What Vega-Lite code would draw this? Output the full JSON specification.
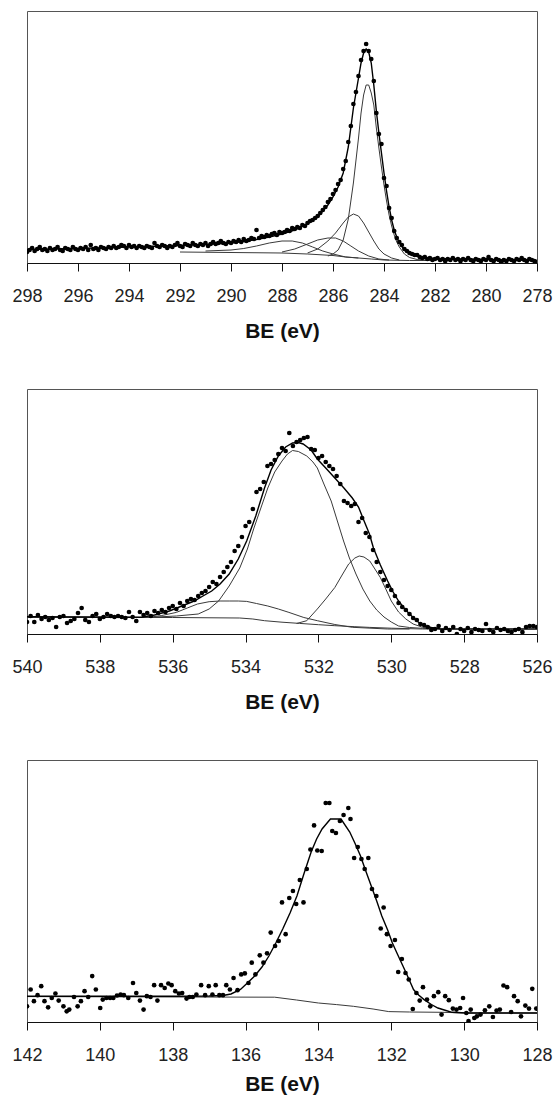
{
"$schema": "https://vega.github.io/schema/vega-lite/v6.json",
"padding": {"left": 11, "top": 10, "right": 0, "bottom": 0},
"background": "white",
"spacing": 46,
"config": {
  "view": {"stroke": "#555", "strokeWidth": 1},
  "axis": {"grid": false, "domainColor": "#111", "tickColor": "#111", "tickSize": 8, "labelFont": "Liberation Sans", "labelFontSize": 18, "labelColor": "#222", "labelPadding": 16, "labelFlush": false, "titleFont": "Liberation Sans", "titleFontSize": 21, "titleFontWeight": "bold", "titleColor": "#111", "titlePadding": 15}
},
"vconcat": [
{
 "width": 510, "height": 252,
 "data": {"values": [
{"k":"pt","e":298.0,"i":11},{"k":"pt","e":297.9,"i":13},{"k":"pt","e":297.8,"i":15},{"k":"pt","e":297.7,"i":12},{"k":"pt","e":297.6,"i":14},{"k":"pt","e":297.5,"i":16},{"k":"pt","e":297.4,"i":13},{"k":"pt","e":297.3,"i":14},{"k":"pt","e":297.2,"i":12},{"k":"pt","e":297.1,"i":15},
{"k":"pt","e":297.0,"i":13},{"k":"pt","e":296.9,"i":14},{"k":"pt","e":296.8,"i":16},{"k":"pt","e":296.7,"i":13},{"k":"pt","e":296.6,"i":12},{"k":"pt","e":296.5,"i":15},{"k":"pt","e":296.4,"i":14},{"k":"pt","e":296.3,"i":13},{"k":"pt","e":296.2,"i":16},{"k":"pt","e":296.1,"i":14},
{"k":"pt","e":296.0,"i":13},{"k":"pt","e":295.9,"i":15},{"k":"pt","e":295.8,"i":14},{"k":"pt","e":295.7,"i":16},{"k":"pt","e":295.6,"i":13},{"k":"pt","e":295.5,"i":18},{"k":"pt","e":295.4,"i":14},{"k":"pt","e":295.3,"i":15},{"k":"pt","e":295.2,"i":13},{"k":"pt","e":295.1,"i":16},
{"k":"pt","e":295.0,"i":15},{"k":"pt","e":294.9,"i":14},{"k":"pt","e":294.8,"i":16},{"k":"pt","e":294.7,"i":15},{"k":"pt","e":294.6,"i":17},{"k":"pt","e":294.5,"i":15},{"k":"pt","e":294.4,"i":16},{"k":"pt","e":294.3,"i":18},{"k":"pt","e":294.2,"i":17},{"k":"pt","e":294.1,"i":15},
{"k":"pt","e":294.0,"i":18},{"k":"pt","e":293.9,"i":16},{"k":"pt","e":293.8,"i":17},{"k":"pt","e":293.7,"i":15},{"k":"pt","e":293.6,"i":17},{"k":"pt","e":293.5,"i":16},{"k":"pt","e":293.4,"i":15},{"k":"pt","e":293.3,"i":17},{"k":"pt","e":293.2,"i":16},{"k":"pt","e":293.1,"i":15},
{"k":"pt","e":293.0,"i":20},{"k":"pt","e":292.9,"i":17},{"k":"pt","e":292.8,"i":16},{"k":"pt","e":292.7,"i":18},{"k":"pt","e":292.6,"i":17},{"k":"pt","e":292.5,"i":15},{"k":"pt","e":292.4,"i":17},{"k":"pt","e":292.3,"i":16},{"k":"pt","e":292.2,"i":18},{"k":"pt","e":292.1,"i":20},
{"k":"pt","e":292.0,"i":17},{"k":"pt","e":291.9,"i":16},{"k":"pt","e":291.8,"i":19},{"k":"pt","e":291.7,"i":18},{"k":"pt","e":291.6,"i":17},{"k":"pt","e":291.5,"i":20},{"k":"pt","e":291.4,"i":18},{"k":"pt","e":291.3,"i":17},{"k":"pt","e":291.2,"i":19},{"k":"pt","e":291.1,"i":18},
{"k":"pt","e":291.0,"i":20},{"k":"pt","e":290.9,"i":17},{"k":"pt","e":290.8,"i":19},{"k":"pt","e":290.7,"i":21},{"k":"pt","e":290.6,"i":19},{"k":"pt","e":290.5,"i":20},{"k":"pt","e":290.4,"i":22},{"k":"pt","e":290.3,"i":20},{"k":"pt","e":290.2,"i":19},{"k":"pt","e":290.1,"i":21},
{"k":"pt","e":290.0,"i":20},{"k":"pt","e":289.9,"i":22},{"k":"pt","e":289.8,"i":21},{"k":"pt","e":289.7,"i":23},{"k":"pt","e":289.6,"i":21},{"k":"pt","e":289.5,"i":24},{"k":"pt","e":289.4,"i":22},{"k":"pt","e":289.3,"i":23},{"k":"pt","e":289.2,"i":25},{"k":"pt","e":289.1,"i":24},
{"k":"pt","e":289.0,"i":33},{"k":"pt","e":288.9,"i":25},{"k":"pt","e":288.8,"i":27},{"k":"pt","e":288.7,"i":26},{"k":"pt","e":288.6,"i":28},{"k":"pt","e":288.5,"i":27},{"k":"pt","e":288.4,"i":29},{"k":"pt","e":288.3,"i":30},{"k":"pt","e":288.2,"i":28},{"k":"pt","e":288.1,"i":31},
{"k":"pt","e":288.0,"i":30},{"k":"pt","e":287.9,"i":31},{"k":"pt","e":287.8,"i":33},{"k":"pt","e":287.7,"i":32},{"k":"pt","e":287.6,"i":35},{"k":"pt","e":287.5,"i":34},{"k":"pt","e":287.4,"i":36},{"k":"pt","e":287.3,"i":35},{"k":"pt","e":287.2,"i":38},{"k":"pt","e":287.1,"i":37},
{"k":"pt","e":287.0,"i":40},{"k":"pt","e":286.9,"i":42},{"k":"pt","e":286.8,"i":43},{"k":"pt","e":286.7,"i":45},{"k":"pt","e":286.6,"i":47},{"k":"pt","e":286.5,"i":50},{"k":"pt","e":286.4,"i":53},{"k":"pt","e":286.3,"i":56},{"k":"pt","e":286.2,"i":61},{"k":"pt","e":286.1,"i":64},
{"k":"pt","e":286.0,"i":69},{"k":"pt","e":285.9,"i":73},{"k":"pt","e":285.8,"i":79},{"k":"pt","e":285.7,"i":83},{"k":"pt","e":285.6,"i":94},{"k":"pt","e":285.5,"i":102},{"k":"pt","e":285.4,"i":121},{"k":"pt","e":285.3,"i":137},{"k":"pt","e":285.2,"i":159},{"k":"pt","e":285.1,"i":171},
{"k":"pt","e":285.0,"i":187},{"k":"pt","e":284.9,"i":203},{"k":"pt","e":284.8,"i":212},{"k":"pt","e":284.7,"i":219},{"k":"pt","e":284.6,"i":212},{"k":"pt","e":284.5,"i":204},{"k":"pt","e":284.4,"i":182},{"k":"pt","e":284.3,"i":150},{"k":"pt","e":284.2,"i":129},{"k":"pt","e":284.1,"i":119},
{"k":"pt","e":284.0,"i":85},{"k":"pt","e":283.9,"i":77},{"k":"pt","e":283.8,"i":55},{"k":"pt","e":283.7,"i":45},{"k":"pt","e":283.6,"i":32},{"k":"pt","e":283.5,"i":25},{"k":"pt","e":283.4,"i":21},{"k":"pt","e":283.3,"i":18},{"k":"pt","e":283.2,"i":14},{"k":"pt","e":283.1,"i":12},
{"k":"pt","e":283.0,"i":10},{"k":"pt","e":282.9,"i":9},{"k":"pt","e":282.8,"i":8},{"k":"pt","e":282.7,"i":8},{"k":"pt","e":282.6,"i":6},{"k":"pt","e":282.5,"i":5},{"k":"pt","e":282.4,"i":6},{"k":"pt","e":282.3,"i":4},{"k":"pt","e":282.2,"i":5},{"k":"pt","e":282.1,"i":3},
{"k":"pt","e":282.0,"i":4},{"k":"pt","e":281.9,"i":5},{"k":"pt","e":281.8,"i":3},{"k":"pt","e":281.7,"i":4},{"k":"pt","e":281.6,"i":2},{"k":"pt","e":281.5,"i":4},{"k":"pt","e":281.4,"i":3},{"k":"pt","e":281.3,"i":5},{"k":"pt","e":281.2,"i":3},{"k":"pt","e":281.1,"i":4},
{"k":"pt","e":281.0,"i":2},{"k":"pt","e":280.9,"i":4},{"k":"pt","e":280.8,"i":3},{"k":"pt","e":280.7,"i":5},{"k":"pt","e":280.6,"i":3},{"k":"pt","e":280.5,"i":2},{"k":"pt","e":280.4,"i":4},{"k":"pt","e":280.3,"i":3},{"k":"pt","e":280.2,"i":2},{"k":"pt","e":280.1,"i":4},
{"k":"pt","e":280.0,"i":3},{"k":"pt","e":279.9,"i":6},{"k":"pt","e":279.8,"i":3},{"k":"pt","e":279.7,"i":2},{"k":"pt","e":279.6,"i":4},{"k":"pt","e":279.5,"i":3},{"k":"pt","e":279.4,"i":1},{"k":"pt","e":279.3,"i":3},{"k":"pt","e":279.2,"i":2},{"k":"pt","e":279.1,"i":4},
{"k":"pt","e":279.0,"i":3},{"k":"pt","e":278.9,"i":2},{"k":"pt","e":278.8,"i":4},{"k":"pt","e":278.7,"i":3},{"k":"pt","e":278.6,"i":5},{"k":"pt","e":278.5,"i":3},{"k":"pt","e":278.4,"i":2},{"k":"pt","e":278.3,"i":4},{"k":"pt","e":278.2,"i":3},{"k":"pt","e":278.1,"i":2},{"k":"pt","e":278.0,"i":1},
{"k":"env","e":298,"i":13.5},{"k":"env","e":296,"i":14.5},{"k":"env","e":294,"i":16},{"k":"env","e":292,"i":17.5},{"k":"env","e":291,"i":18.5},{"k":"env","e":290,"i":20},{"k":"env","e":289.5,"i":21.5},{"k":"env","e":289,"i":23.5},{"k":"env","e":288.5,"i":26},{"k":"env","e":288,"i":29},{"k":"env","e":287.5,"i":33},{"k":"env","e":287,"i":39},{"k":"env","e":286.6,"i":46},{"k":"env","e":286.2,"i":58},{"k":"env","e":286.0,"i":66},{"k":"env","e":285.8,"i":76},{"k":"env","e":285.6,"i":90},{"k":"env","e":285.4,"i":116},{"k":"env","e":285.2,"i":155},{"k":"env","e":285.0,"i":185},{"k":"env","e":284.9,"i":200},{"k":"env","e":284.8,"i":210},{"k":"env","e":284.7,"i":214},{"k":"env","e":284.6,"i":211},{"k":"env","e":284.5,"i":200},{"k":"env","e":284.4,"i":178},{"k":"env","e":284.3,"i":152},{"k":"env","e":284.2,"i":130},{"k":"env","e":284.1,"i":110},{"k":"env","e":284.0,"i":90},{"k":"env","e":283.9,"i":72},{"k":"env","e":283.8,"i":56},{"k":"env","e":283.7,"i":43},{"k":"env","e":283.6,"i":33},{"k":"env","e":283.5,"i":26},{"k":"env","e":283.4,"i":20},{"k":"env","e":283.2,"i":13},{"k":"env","e":283.0,"i":9.5},{"k":"env","e":282.8,"i":7.5},{"k":"env","e":282.5,"i":5.5},{"k":"env","e":282,"i":4.5},{"k":"env","e":281,"i":4},{"k":"env","e":280,"i":3.5},{"k":"env","e":279,"i":3},{"k":"env","e":278,"i":2.5},
{"k":"c1","e":286.2,"i":7},{"k":"c1","e":286.0,"i":9},{"k":"c1","e":285.8,"i":13},{"k":"c1","e":285.6,"i":23},{"k":"c1","e":285.4,"i":44},{"k":"c1","e":285.2,"i":80},{"k":"c1","e":285.0,"i":125},{"k":"c1","e":284.9,"i":150},{"k":"c1","e":284.8,"i":168},{"k":"c1","e":284.7,"i":178},{"k":"c1","e":284.6,"i":178},{"k":"c1","e":284.5,"i":170},{"k":"c1","e":284.4,"i":158},{"k":"c1","e":284.3,"i":135},{"k":"c1","e":284.2,"i":115},{"k":"c1","e":284.1,"i":96},{"k":"c1","e":284.0,"i":78},{"k":"c1","e":283.9,"i":62},{"k":"c1","e":283.8,"i":48},{"k":"c1","e":283.7,"i":37},{"k":"c1","e":283.6,"i":28},{"k":"c1","e":283.5,"i":21},{"k":"c1","e":283.4,"i":16},{"k":"c1","e":283.2,"i":9},{"k":"c1","e":283.0,"i":5.5},{"k":"c1","e":282.7,"i":3.5},{"k":"c1","e":282.2,"i":2.5},
{"k":"c2","e":287.0,"i":10},{"k":"c2","e":286.6,"i":14},{"k":"c2","e":286.2,"i":22},{"k":"c2","e":285.9,"i":30},{"k":"c2","e":285.6,"i":40},{"k":"c2","e":285.4,"i":46},{"k":"c2","e":285.2,"i":49},{"k":"c2","e":285.0,"i":47},{"k":"c2","e":284.8,"i":40},{"k":"c2","e":284.6,"i":31},{"k":"c2","e":284.4,"i":22},{"k":"c2","e":284.2,"i":14},{"k":"c2","e":284.0,"i":9},{"k":"c2","e":283.7,"i":5},{"k":"c2","e":283.4,"i":3},
{"k":"c3","e":288.0,"i":11},{"k":"c3","e":287.5,"i":14},{"k":"c3","e":287.0,"i":19},{"k":"c3","e":286.6,"i":23},{"k":"c3","e":286.2,"i":25},{"k":"c3","e":285.9,"i":25},{"k":"c3","e":285.6,"i":22},{"k":"c3","e":285.3,"i":17},{"k":"c3","e":285.0,"i":12},{"k":"c3","e":284.6,"i":7},{"k":"c3","e":284.2,"i":4},{"k":"c3","e":283.8,"i":3},
{"k":"c4","e":291.0,"i":12},{"k":"c4","e":290.0,"i":13},{"k":"c4","e":289.5,"i":14.5},{"k":"c4","e":289.0,"i":17},{"k":"c4","e":288.5,"i":20},{"k":"c4","e":288.0,"i":22},{"k":"c4","e":287.6,"i":22},{"k":"c4","e":287.2,"i":20},{"k":"c4","e":286.8,"i":16},{"k":"c4","e":286.4,"i":12},{"k":"c4","e":286.0,"i":9},{"k":"c4","e":285.5,"i":6},{"k":"c4","e":285.0,"i":5},
{"k":"bg","e":292,"i":11},{"k":"bg","e":290,"i":10.5},{"k":"bg","e":288,"i":10},{"k":"bg","e":287,"i":9},{"k":"bg","e":286,"i":7.5},{"k":"bg","e":285.5,"i":6},{"k":"bg","e":285,"i":5},{"k":"bg","e":284.5,"i":4},{"k":"bg","e":284,"i":3},{"k":"bg","e":283,"i":2.5},{"k":"bg","e":282,"i":2.5}
 ]},
 "encoding": {
   "x": {"field": "e", "type": "quantitative", "scale": {"domain": [278, 298], "reverse": true, "nice": false, "zero": false}, "axis": {"values": [298,296,294,292,290,288,286,284,282,280,278], "title": "BE (eV)"}},
   "y": {"field": "i", "type": "quantitative", "scale": {"domain": [0, 252], "nice": false, "zero": true}, "axis": null}
 },
 "layer": [
  {"transform": [{"filter": "datum.k != 'env' && datum.k != 'pt'"}], "mark": {"type": "line", "stroke": "#3a3a3a", "strokeWidth": 1, "clip": true}, "encoding": {"detail": {"field": "k"}}},
  {"transform": [{"filter": "datum.k == 'env'"}], "mark": {"type": "line", "stroke": "#000", "strokeWidth": 1.4, "clip": true}, "encoding": {}},
  {"transform": [{"filter": "datum.k == 'pt'"}], "mark": {"type": "circle", "color": "#000", "size": 22, "opacity": 1, "clip": true}}
 ]
},
{
 "width": 510, "height": 245,
 "data": {"values": [
{"k":"pt","e":540.0,"i":12},{"k":"pt","e":539.9,"i":18},{"k":"pt","e":539.8,"i":12},{"k":"pt","e":539.7,"i":19},{"k":"pt","e":539.6,"i":15},{"k":"pt","e":539.5,"i":17},{"k":"pt","e":539.4,"i":14},{"k":"pt","e":539.3,"i":16},{"k":"pt","e":539.2,"i":7},{"k":"pt","e":539.1,"i":17},
{"k":"pt","e":539.0,"i":18},{"k":"pt","e":538.9,"i":11},{"k":"pt","e":538.8,"i":13},{"k":"pt","e":538.7,"i":15},{"k":"pt","e":538.6,"i":21},{"k":"pt","e":538.5,"i":26},{"k":"pt","e":538.4,"i":14},{"k":"pt","e":538.3,"i":12},{"k":"pt","e":538.2,"i":18},{"k":"pt","e":538.1,"i":20},
{"k":"pt","e":538.0,"i":15},{"k":"pt","e":537.9,"i":17},{"k":"pt","e":537.8,"i":20},{"k":"pt","e":537.7,"i":18},{"k":"pt","e":537.6,"i":17},{"k":"pt","e":537.5,"i":18},{"k":"pt","e":537.4,"i":17},{"k":"pt","e":537.3,"i":16},{"k":"pt","e":537.2,"i":22},{"k":"pt","e":537.1,"i":17},
{"k":"pt","e":537.0,"i":13},{"k":"pt","e":536.9,"i":22},{"k":"pt","e":536.8,"i":19},{"k":"pt","e":536.7,"i":21},{"k":"pt","e":536.6,"i":18},{"k":"pt","e":536.5,"i":23},{"k":"pt","e":536.4,"i":21},{"k":"pt","e":536.3,"i":24},{"k":"pt","e":536.2,"i":22},{"k":"pt","e":536.1,"i":26},
{"k":"pt","e":536.0,"i":28},{"k":"pt","e":535.9,"i":25},{"k":"pt","e":535.8,"i":31},{"k":"pt","e":535.7,"i":28},{"k":"pt","e":535.6,"i":33},{"k":"pt","e":535.5,"i":35},{"k":"pt","e":535.4,"i":34},{"k":"pt","e":535.3,"i":38},{"k":"pt","e":535.2,"i":41},{"k":"pt","e":535.1,"i":43},
{"k":"pt","e":535.0,"i":47},{"k":"pt","e":534.9,"i":52},{"k":"pt","e":534.8,"i":50},{"k":"pt","e":534.7,"i":57},{"k":"pt","e":534.6,"i":62},{"k":"pt","e":534.5,"i":67},{"k":"pt","e":534.4,"i":72},{"k":"pt","e":534.3,"i":83},{"k":"pt","e":534.2,"i":88},{"k":"pt","e":534.1,"i":97},
{"k":"pt","e":534.0,"i":108},{"k":"pt","e":533.9,"i":112},{"k":"pt","e":533.8,"i":125},{"k":"pt","e":533.7,"i":142},{"k":"pt","e":533.6,"i":145},{"k":"pt","e":533.5,"i":152},{"k":"pt","e":533.4,"i":168},{"k":"pt","e":533.3,"i":170},{"k":"pt","e":533.2,"i":174},{"k":"pt","e":533.1,"i":180},
{"k":"pt","e":533.0,"i":186},{"k":"pt","e":532.9,"i":183},{"k":"pt","e":532.8,"i":201},{"k":"pt","e":532.7,"i":188},{"k":"pt","e":532.6,"i":192},{"k":"pt","e":532.5,"i":194},{"k":"pt","e":532.4,"i":196},{"k":"pt","e":532.3,"i":197},{"k":"pt","e":532.2,"i":185},{"k":"pt","e":532.1,"i":184},
{"k":"pt","e":532.0,"i":176},{"k":"pt","e":531.9,"i":178},{"k":"pt","e":531.8,"i":172},{"k":"pt","e":531.7,"i":168},{"k":"pt","e":531.6,"i":165},{"k":"pt","e":531.5,"i":158},{"k":"pt","e":531.4,"i":150},{"k":"pt","e":531.3,"i":133},{"k":"pt","e":531.2,"i":131},{"k":"pt","e":531.1,"i":128},
{"k":"pt","e":531.0,"i":130},{"k":"pt","e":530.9,"i":112},{"k":"pt","e":530.8,"i":116},{"k":"pt","e":530.7,"i":101},{"k":"pt","e":530.6,"i":97},{"k":"pt","e":530.5,"i":84},{"k":"pt","e":530.4,"i":72},{"k":"pt","e":530.3,"i":62},{"k":"pt","e":530.2,"i":54},{"k":"pt","e":530.1,"i":48},
{"k":"pt","e":530.0,"i":44},{"k":"pt","e":529.9,"i":38},{"k":"pt","e":529.8,"i":31},{"k":"pt","e":529.7,"i":27},{"k":"pt","e":529.6,"i":24},{"k":"pt","e":529.5,"i":20},{"k":"pt","e":529.4,"i":16},{"k":"pt","e":529.3,"i":14},{"k":"pt","e":529.2,"i":10},{"k":"pt","e":529.1,"i":9},
{"k":"pt","e":529.0,"i":7},{"k":"pt","e":528.9,"i":4},{"k":"pt","e":528.8,"i":5},{"k":"pt","e":528.7,"i":8},{"k":"pt","e":528.6,"i":3},{"k":"pt","e":528.5,"i":6},{"k":"pt","e":528.4,"i":4},{"k":"pt","e":528.3,"i":7},{"k":"pt","e":528.2,"i":0},{"k":"pt","e":528.1,"i":5},
{"k":"pt","e":528.0,"i":3},{"k":"pt","e":527.9,"i":6},{"k":"pt","e":527.8,"i":2},{"k":"pt","e":527.7,"i":5},{"k":"pt","e":527.6,"i":4},{"k":"pt","e":527.5,"i":3},{"k":"pt","e":527.4,"i":10},{"k":"pt","e":527.3,"i":4},{"k":"pt","e":527.2,"i":2},{"k":"pt","e":527.1,"i":6},
{"k":"pt","e":527.0,"i":4},{"k":"pt","e":526.9,"i":5},{"k":"pt","e":526.8,"i":3},{"k":"pt","e":526.7,"i":2},{"k":"pt","e":526.6,"i":4},{"k":"pt","e":526.5,"i":5},{"k":"pt","e":526.4,"i":2},{"k":"pt","e":526.3,"i":7},{"k":"pt","e":526.2,"i":8},{"k":"pt","e":526.1,"i":8},{"k":"pt","e":526.0,"i":7},
{"k":"env","e":540,"i":17.3},{"k":"env","e":538,"i":17},{"k":"env","e":536.86,"i":16.8},{"k":"env","e":536.5,"i":19},{"k":"env","e":536.09,"i":23},{"k":"env","e":535.75,"i":28},{"k":"env","e":535.41,"i":33},{"k":"env","e":535.17,"i":38},{"k":"env","e":534.93,"i":43},{"k":"env","e":534.7,"i":50},{"k":"env","e":534.45,"i":60},{"k":"env","e":534.2,"i":75},{"k":"env","e":533.97,"i":93},{"k":"env","e":533.72,"i":118},{"k":"env","e":533.48,"i":146},{"k":"env","e":533.3,"i":164},{"k":"env","e":533.1,"i":178},{"k":"env","e":532.9,"i":187},{"k":"env","e":532.71,"i":191},{"k":"env","e":532.55,"i":191.5},{"k":"env","e":532.42,"i":190},{"k":"env","e":532.2,"i":184},{"k":"env","e":532.03,"i":175},{"k":"env","e":531.8,"i":166},{"k":"env","e":531.55,"i":156},{"k":"env","e":531.3,"i":146},{"k":"env","e":531.07,"i":136},{"k":"env","e":530.9,"i":127},{"k":"env","e":530.78,"i":116},{"k":"env","e":530.6,"i":100},{"k":"env","e":530.49,"i":86},{"k":"env","e":530.3,"i":69},{"k":"env","e":530.1,"i":53},{"k":"env","e":529.95,"i":42},{"k":"env","e":529.8,"i":33},{"k":"env","e":529.65,"i":26},{"k":"env","e":529.5,"i":20},{"k":"env","e":529.3,"i":13},{"k":"env","e":529.1,"i":8},{"k":"env","e":528.9,"i":6.5},{"k":"env","e":528.65,"i":5},{"k":"env","e":526,"i":5},
{"k":"c1","e":536.67,"i":16.6},{"k":"c1","e":535.9,"i":18},{"k":"c1","e":535.3,"i":20},{"k":"c1","e":535.0,"i":25},{"k":"c1","e":534.74,"i":33},{"k":"c1","e":534.45,"i":48},{"k":"c1","e":534.16,"i":66},{"k":"c1","e":533.95,"i":85},{"k":"c1","e":533.77,"i":106},{"k":"c1","e":533.58,"i":126},{"k":"c1","e":533.39,"i":146},{"k":"c1","e":533.2,"i":162},{"k":"c1","e":533.0,"i":173},{"k":"c1","e":532.85,"i":180},{"k":"c1","e":532.71,"i":183.5},{"k":"c1","e":532.55,"i":182.5},{"k":"c1","e":532.32,"i":178},{"k":"c1","e":532.15,"i":172},{"k":"c1","e":532.03,"i":166},{"k":"c1","e":531.85,"i":150},{"k":"c1","e":531.65,"i":133},{"k":"c1","e":531.48,"i":113},{"k":"c1","e":531.31,"i":93},{"k":"c1","e":531.15,"i":76},{"k":"c1","e":530.97,"i":60},{"k":"c1","e":530.78,"i":45},{"k":"c1","e":530.59,"i":33},{"k":"c1","e":530.4,"i":24},{"k":"c1","e":530.2,"i":17},{"k":"c1","e":530.0,"i":12},{"k":"c1","e":529.8,"i":8},{"k":"c1","e":529.5,"i":6.5},{"k":"c1","e":529.14,"i":5.7},{"k":"c1","e":528.8,"i":5},
{"k":"c2","e":532.6,"i":10.5},{"k":"c2","e":532.32,"i":13.3},{"k":"c2","e":532.03,"i":25},{"k":"c2","e":531.8,"i":35},{"k":"c2","e":531.55,"i":46.5},{"k":"c2","e":531.35,"i":59},{"k":"c2","e":531.17,"i":70},{"k":"c2","e":531.0,"i":76},{"k":"c2","e":530.88,"i":78},{"k":"c2","e":530.75,"i":77},{"k":"c2","e":530.59,"i":73},{"k":"c2","e":530.45,"i":65},{"k":"c2","e":530.3,"i":56.5},{"k":"c2","e":530.15,"i":45},{"k":"c2","e":530.0,"i":33},{"k":"c2","e":529.8,"i":22},{"k":"c2","e":529.6,"i":15},{"k":"c2","e":529.4,"i":10},{"k":"c2","e":529.14,"i":6.7},{"k":"c2","e":528.8,"i":5},
{"k":"c3","e":536.67,"i":16.6},{"k":"c3","e":536.3,"i":18.5},{"k":"c3","e":535.9,"i":21.6},{"k":"c3","e":535.6,"i":26},{"k":"c3","e":535.32,"i":30},{"k":"c3","e":535.0,"i":32.3},{"k":"c3","e":534.7,"i":33},{"k":"c3","e":534.45,"i":33},{"k":"c3","e":534.2,"i":33},{"k":"c3","e":533.97,"i":32.6},{"k":"c3","e":533.7,"i":30.5},{"k":"c3","e":533.39,"i":28},{"k":"c3","e":533.1,"i":25},{"k":"c3","e":532.81,"i":21.6},{"k":"c3","e":532.4,"i":16.5},{"k":"c3","e":532.03,"i":13.3},{"k":"c3","e":531.55,"i":9.5},{"k":"c3","e":531.07,"i":6.7},{"k":"c3","e":530.1,"i":5},{"k":"c3","e":529.5,"i":5},
{"k":"bg","e":540,"i":16.6},{"k":"bg","e":536,"i":16.5},{"k":"bg","e":534.16,"i":16},{"k":"bg","e":533.8,"i":15},{"k":"bg","e":533.48,"i":13.3},{"k":"bg","e":533.0,"i":11.8},{"k":"bg","e":532.52,"i":10.6},{"k":"bg","e":532.0,"i":9.3},{"k":"bg","e":531.55,"i":8.3},{"k":"bg","e":531.0,"i":7.3},{"k":"bg","e":530.59,"i":6.6},{"k":"bg","e":530.0,"i":5.8},{"k":"bg","e":529.14,"i":5},{"k":"bg","e":528.5,"i":5}
 ]},
 "encoding": {
   "x": {"field": "e", "type": "quantitative", "scale": {"domain": [526, 540], "reverse": true, "nice": false, "zero": false}, "axis": {"values": [540,538,536,534,532,530,528,526], "title": "BE (eV)"}},
   "y": {"field": "i", "type": "quantitative", "scale": {"domain": [0, 245], "nice": false, "zero": true}, "axis": null}
 },
 "layer": [
  {"transform": [{"filter": "datum.k != 'env' && datum.k != 'pt'"}], "mark": {"type": "line", "stroke": "#3a3a3a", "strokeWidth": 1, "clip": true}, "encoding": {"detail": {"field": "k"}}},
  {"transform": [{"filter": "datum.k == 'env'"}], "mark": {"type": "line", "stroke": "#000", "strokeWidth": 1.4, "clip": true}, "encoding": {}},
  {"transform": [{"filter": "datum.k == 'pt'"}], "mark": {"type": "circle", "color": "#000", "size": 22, "opacity": 1, "clip": true}}
 ]
},
{
 "width": 510, "height": 262,
 "data": {"values": [
{"k":"pt","e":142.00,"i":15.7},{"k":"pt","e":141.90,"i":32.5},{"k":"pt","e":141.81,"i":20.8},{"k":"pt","e":141.71,"i":26.8},{"k":"pt","e":141.61,"i":35.8},{"k":"pt","e":141.52,"i":20.8},{"k":"pt","e":141.42,"i":14.7},{"k":"pt","e":141.32,"i":24},{"k":"pt","e":141.22,"i":28.5},{"k":"pt","e":141.13,"i":21.4},
{"k":"pt","e":141.00,"i":15.7},{"k":"pt","e":140.91,"i":10.7},{"k":"pt","e":140.84,"i":12.4},{"k":"pt","e":140.71,"i":25},{"k":"pt","e":140.61,"i":15.7},{"k":"pt","e":140.52,"i":20.8},{"k":"pt","e":140.42,"i":30.8},{"k":"pt","e":140.32,"i":25},{"k":"pt","e":140.21,"i":45.9},{"k":"pt","e":140.11,"i":32.5},
{"k":"pt","e":139.99,"i":14},{"k":"pt","e":139.92,"i":22.4},{"k":"pt","e":139.82,"i":24},{"k":"pt","e":139.72,"i":24},{"k":"pt","e":139.63,"i":24},{"k":"pt","e":139.53,"i":26.5},{"k":"pt","e":139.43,"i":27.5},{"k":"pt","e":139.34,"i":26.8},{"k":"pt","e":139.22,"i":24},{"k":"pt","e":139.09,"i":39},
{"k":"pt","e":139.00,"i":29},{"k":"pt","e":138.90,"i":21.4},{"k":"pt","e":138.80,"i":12.4},{"k":"pt","e":138.71,"i":25.8},{"k":"pt","e":138.61,"i":25},{"k":"pt","e":138.51,"i":36.8},{"k":"pt","e":138.42,"i":21.4},{"k":"pt","e":138.32,"i":36.8},{"k":"pt","e":138.22,"i":34},{"k":"pt","e":138.12,"i":38.5},
{"k":"pt","e":138.03,"i":36.8},{"k":"pt","e":137.93,"i":30.8},{"k":"pt","e":137.83,"i":28.5},{"k":"pt","e":137.74,"i":29},{"k":"pt","e":137.62,"i":23.4},{"k":"pt","e":137.54,"i":25},{"k":"pt","e":137.45,"i":25},{"k":"pt","e":137.35,"i":27.5},{"k":"pt","e":137.22,"i":36.8},{"k":"pt","e":137.11,"i":26.8},
{"k":"pt","e":137.01,"i":35.8},{"k":"pt","e":136.91,"i":27.5},{"k":"pt","e":136.82,"i":36.8},{"k":"pt","e":136.72,"i":26.8},{"k":"pt","e":136.62,"i":26.8},{"k":"pt","e":136.53,"i":36.8},{"k":"pt","e":136.43,"i":32.5},{"k":"pt","e":136.33,"i":44},{"k":"pt","e":136.22,"i":31.8},{"k":"pt","e":136.12,"i":47.6},
{"k":"pt","e":136.02,"i":48.6},{"k":"pt","e":135.92,"i":39},{"k":"pt","e":135.83,"i":59.3},{"k":"pt","e":135.73,"i":47.6},{"k":"pt","e":135.61,"i":66.7},{"k":"pt","e":135.51,"i":59.3},{"k":"pt","e":135.41,"i":68.7},{"k":"pt","e":135.31,"i":89.4},{"k":"pt","e":135.19,"i":76},{"k":"pt","e":135.09,"i":81},
{"k":"pt","e":135.00,"i":119.6},{"k":"pt","e":134.90,"i":87.8},{"k":"pt","e":134.80,"i":124},{"k":"pt","e":134.70,"i":131},{"k":"pt","e":134.61,"i":118},{"k":"pt","e":134.51,"i":142},{"k":"pt","e":134.41,"i":119.6},{"k":"pt","e":134.32,"i":153},{"k":"pt","e":134.22,"i":172.5},{"k":"pt","e":134.12,"i":196.6},
{"k":"pt","e":134.03,"i":171.5},{"k":"pt","e":133.91,"i":171},{"k":"pt","e":133.80,"i":219},{"k":"pt","e":133.70,"i":219},{"k":"pt","e":133.62,"i":191},{"k":"pt","e":133.52,"i":189},{"k":"pt","e":133.41,"i":201},{"k":"pt","e":133.31,"i":207},{"k":"pt","e":133.18,"i":214},{"k":"pt","e":133.12,"i":203},
{"k":"pt","e":133.02,"i":164},{"k":"pt","e":132.92,"i":175},{"k":"pt","e":132.82,"i":163},{"k":"pt","e":132.73,"i":153},{"k":"pt","e":132.63,"i":164},{"k":"pt","e":132.53,"i":133},{"k":"pt","e":132.41,"i":126},{"k":"pt","e":132.29,"i":93.5},{"k":"pt","e":132.21,"i":114.5},{"k":"pt","e":132.12,"i":87.8},
{"k":"pt","e":132.02,"i":76},{"k":"pt","e":131.90,"i":82},{"k":"pt","e":131.81,"i":50},{"k":"pt","e":131.71,"i":63},{"k":"pt","e":131.61,"i":49},{"k":"pt","e":131.52,"i":42.5},{"k":"pt","e":131.41,"i":13},{"k":"pt","e":131.31,"i":29},{"k":"pt","e":131.22,"i":21.4},{"k":"pt","e":131.13,"i":34.8},
{"k":"pt","e":131.02,"i":22.4},{"k":"pt","e":130.93,"i":15.7},{"k":"pt","e":130.83,"i":25.8},{"k":"pt","e":130.71,"i":29.8},{"k":"pt","e":130.62,"i":7.4},{"k":"pt","e":130.52,"i":25.8},{"k":"pt","e":130.42,"i":21.8},{"k":"pt","e":130.31,"i":13.4},{"k":"pt","e":130.21,"i":12.4},{"k":"pt","e":130.11,"i":14},
{"k":"pt","e":130.03,"i":24},{"k":"pt","e":129.94,"i":9},{"k":"pt","e":129.88,"i":1},{"k":"pt","e":129.82,"i":12.4},{"k":"pt","e":129.72,"i":4},{"k":"pt","e":129.65,"i":5.7},{"k":"pt","e":129.55,"i":7.4},{"k":"pt","e":129.43,"i":11.7},{"k":"pt","e":129.31,"i":15.7},{"k":"pt","e":129.21,"i":5},
{"k":"pt","e":129.11,"i":11.4},{"k":"pt","e":129.02,"i":12.4},{"k":"pt","e":128.92,"i":36.5},{"k":"pt","e":128.82,"i":34.8},{"k":"pt","e":128.71,"i":10},{"k":"pt","e":128.63,"i":25.8},{"k":"pt","e":128.53,"i":20.8},{"k":"pt","e":128.44,"i":5.7},{"k":"pt","e":128.32,"i":16.4},{"k":"pt","e":128.22,"i":13.4},
{"k":"pt","e":128.13,"i":33.2},{"k":"pt","e":128.02,"i":13.4},
{"k":"env","e":142,"i":25.8},{"k":"env","e":140,"i":25.8},{"k":"env","e":138,"i":25.8},{"k":"env","e":137,"i":26},{"k":"env","e":136.62,"i":26.5},{"k":"env","e":136.4,"i":28},{"k":"env","e":136.14,"i":32.5},{"k":"env","e":135.95,"i":39},{"k":"env","e":135.75,"i":46},{"k":"env","e":135.55,"i":55},{"k":"env","e":135.36,"i":66},{"k":"env","e":135.17,"i":79},{"k":"env","e":134.98,"i":93},{"k":"env","e":134.78,"i":109},{"k":"env","e":134.59,"i":126},{"k":"env","e":134.4,"i":148},{"k":"env","e":134.2,"i":170},{"k":"env","e":134.05,"i":183},{"k":"env","e":133.9,"i":193},{"k":"env","e":133.67,"i":203},{"k":"env","e":133.38,"i":203},{"k":"env","e":133.14,"i":190},{"k":"env","e":133.0,"i":179},{"k":"env","e":132.85,"i":166.5},{"k":"env","e":132.7,"i":151},{"k":"env","e":132.55,"i":136},{"k":"env","e":132.4,"i":121},{"k":"env","e":132.26,"i":106},{"k":"env","e":132.1,"i":92},{"k":"env","e":131.97,"i":79},{"k":"env","e":131.82,"i":67},{"k":"env","e":131.68,"i":56},{"k":"env","e":131.53,"i":44},{"k":"env","e":131.39,"i":32.5},{"k":"env","e":131.25,"i":27},{"k":"env","e":131.1,"i":22.4},{"k":"env","e":130.9,"i":17.5},{"k":"env","e":130.72,"i":14},{"k":"env","e":130.5,"i":11.5},{"k":"env","e":130.33,"i":9.7},{"k":"env","e":129.94,"i":9},{"k":"env","e":128,"i":9},
{"k":"bg","e":142,"i":25.4},{"k":"bg","e":135.2,"i":24.8},{"k":"bg","e":134.6,"i":22},{"k":"bg","e":134.0,"i":19},{"k":"bg","e":133.5,"i":17.4},{"k":"bg","e":133.04,"i":15.7},{"k":"bg","e":132.5,"i":13},{"k":"bg","e":132.07,"i":10.4},{"k":"bg","e":131.5,"i":10},{"k":"bg","e":130.6,"i":9.7},{"k":"bg","e":129.94,"i":9},{"k":"bg","e":128,"i":9}
 ]},
 "encoding": {
   "x": {"field": "e", "type": "quantitative", "scale": {"domain": [128, 142], "reverse": true, "nice": false, "zero": false}, "axis": {"values": [142,140,138,136,134,132,130,128], "title": "BE (eV)", "titlePadding": 9}},
   "y": {"field": "i", "type": "quantitative", "scale": {"domain": [0, 262], "nice": false, "zero": true}, "axis": null}
 },
 "layer": [
  {"transform": [{"filter": "datum.k != 'env' && datum.k != 'pt'"}], "mark": {"type": "line", "stroke": "#3a3a3a", "strokeWidth": 1, "clip": true}, "encoding": {"detail": {"field": "k"}}},
  {"transform": [{"filter": "datum.k == 'env'"}], "mark": {"type": "line", "stroke": "#000", "strokeWidth": 1.4, "clip": true}, "encoding": {}},
  {"transform": [{"filter": "datum.k == 'pt'"}], "mark": {"type": "circle", "color": "#000", "size": 22, "opacity": 1, "clip": true}}
 ]
}
]
}
